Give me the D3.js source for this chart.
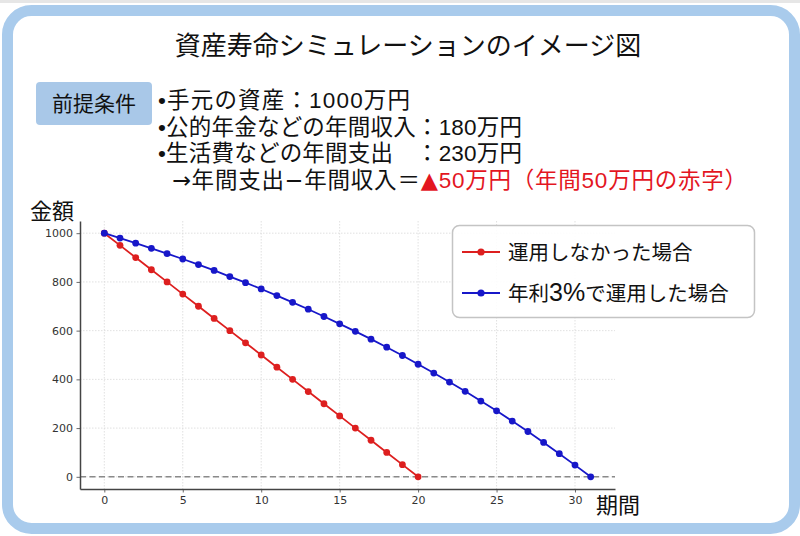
<!DOCTYPE html>
<html>
<head>
<meta charset="utf-8">
<script src="https://cdn.jsdelivr.net/npm/d3@7"></script>
<style>
  html, body { margin: 0; padding: 0; background: #fff; }
  svg { display: block; }
</style>
</head>
<body>
<div id="chart"></div>
<script>
// 運用しなかった場合 (年間50万円ずつ減る)
const yearsPlain = [0, 1, 2, 3, 4, 5, 6, 7, 8, 9, 10, 11, 12, 13, 14, 15, 16, 17, 18, 19, 20]
const valuesPlain = [1000, 950, 900, 850, 800, 750, 700, 650, 600, 550, 500, 450, 400, 350, 300, 250, 200, 150, 100, 50, 0]

// 年利3%で運用した場合
const yearsInvest = [0, 1, 2, 3, 4, 5, 6, 7, 8, 9, 10, 11, 12, 13, 14, 15, 16, 17, 18, 19, 20, 21, 22, 23, 24, 25, 26, 27, 28, 29, 30, 31]
const valuesInvest = [1000, 980, 959, 938, 916, 894, 871, 847, 822, 797, 771, 744, 716, 688, 658, 628, 597, 565, 532, 498, 462, 426, 389, 351, 311, 271, 229, 186, 141, 95, 48, 0]

const xTicks = [0, 5, 10, 15, 20, 25, 30]
const yTicks = [0, 200, 400, 600, 800, 1000]

const seriesNames = ['運用しなかった場合', '年利3%で運用した場合']

const conditions = [
  '•手元の資産：1000万円',
  '•公的年金などの年間収入：180万円',
  '•生活費などの年間支出　：230万円'
]

const CONFIG = {
  width: 800,
  height: 536,
  plot: { left: 80, right: 615, top: 221, bottom: 489 },
  colors: {
    frame: '#a9cbec',
    badge: '#a9c8e8',
    text: '#111',
    tick: '#333',
    red: '#dd1f1f',
    blue: '#1717c9',
    accent: '#e3161f',
    grid: '#d9d9d9',
    zero: '#8a8a8a',
    spine: '#444'
  }
}

// 数字は Liberation Sans、かなと漢字は Noto Sans CJK JP
const jp = '"Liberation Sans", "Noto Sans CJK JP", sans-serif'
const sym = '"DejaVu Sans", sans-serif'
const c = CONFIG.colors
const p = CONFIG.plot

const svg = d3.select('#chart')
  .append('svg')
  .attr('width', CONFIG.width)
  .attr('height', CONFIG.height)

// 外枠
svg.append('rect')
  .attr('x', 0).attr('y', 0).attr('width', 800).attr('height', 3)
  .attr('fill', '#e6e6e6')
svg.append('rect')
  .attr('x', 7.5).attr('y', 10.5)
  .attr('width', 787).attr('height', 518)
  .attr('rx', 24).attr('ry', 24)
  .attr('fill', '#fff')
  .attr('stroke', c.frame)
  .attr('stroke-width', 11)

// タイトル
svg.append('text')
  .attr('x', 408).attr('y', 55)
  .attr('text-anchor', 'middle')
  .style('font-family', jp)
  .style('font-size', '26px')
  .style('fill', c.text)
  .text('資産寿命シミュレーションのイメージ図')

// 前提条件
svg.append('rect')
  .attr('x', 36).attr('y', 82).attr('width', 116).attr('height', 43)
  .attr('rx', 4)
  .attr('fill', c.badge)
svg.append('text')
  .attr('x', 94).attr('y', 111)
  .attr('text-anchor', 'middle')
  .style('font-family', jp)
  .style('font-size', '21px')
  .style('fill', c.text)
  .text('前提条件')

conditions.forEach((line, i) => {
  svg.append('text')
    .attr('x', 158).attr('y', 108 + i * 26.5)
    .attr('textLength', i === 0 ? 252 : 364)
    .style('font-family', jp)
    .style('font-size', '22.5px')
    .style('fill', c.text)
    .text(line)
})
const last = svg.append('text')
  .attr('x', 172).attr('y', 188)
  .attr('textLength', 575)
  .style('font-family', jp)
  .style('font-size', '22.5px')
  .style('fill', c.text)
last.append('tspan').style('font-family', sym).text('→')
last.append('tspan').text('年間支出')
last.append('tspan').style('font-family', sym).text('−')
last.append('tspan').text('年間収入＝')
last.append('tspan').style('fill', c.accent).style('font-family', sym).text('▲')
last.append('tspan').style('fill', c.accent).text('50万円（年間50万円の赤字）')

// スケール
const x = d3.scaleLinear().domain([-1.55, 32.55]).range([p.left, p.right])
const y = d3.scaleLinear().domain([-50, 1050]).range([p.bottom, p.top])

// グリッド
const grid = svg.append('g')
grid.selectAll('.vgrid')
  .data(xTicks)
  .enter()
  .append('line')
  .attr('x1', (d) => x(d)).attr('x2', (d) => x(d))
  .attr('y1', p.top).attr('y2', p.bottom)
  .attr('stroke', c.grid)
  .attr('stroke-width', 0.8)
  .attr('stroke-dasharray', '1.5,1.5')
grid.selectAll('.hgrid')
  .data(yTicks)
  .enter()
  .append('line')
  .attr('x1', p.left).attr('x2', p.right)
  .attr('y1', (d) => y(d)).attr('y2', (d) => y(d))
  .attr('stroke', c.grid)
  .attr('stroke-width', 0.8)
  .attr('stroke-dasharray', '1.5,1.5')

// ゼロライン
svg.append('line')
  .attr('x1', p.left).attr('x2', p.right)
  .attr('y1', y(0)).attr('y2', y(0))
  .attr('stroke', c.zero)
  .attr('stroke-width', 1.5)
  .attr('stroke-dasharray', '6,3.5')

// 軸
const styleAxis = (g) => {
  g.select('.domain').attr('stroke', c.spine).attr('stroke-width', 1.5)
  g.selectAll('.tick line').attr('stroke', c.spine).attr('stroke-width', 0.8)
  g.selectAll('.tick text')
    .style('font-family', '"DejaVu Sans", sans-serif')
    .style('font-size', '11px')
    .style('fill', c.tick)
}
svg.append('g')
  .attr('transform', `translate(0,${p.bottom})`)
  .call(d3.axisBottom(x).tickValues(xTicks).tickFormat(d3.format('d')).tickSize(3.5).tickSizeOuter(0).tickPadding(4))
  .call(styleAxis)
svg.append('g')
  .attr('transform', `translate(${p.left},0)`)
  .call(d3.axisLeft(y).tickValues(yTicks).tickFormat(d3.format('d')).tickSize(3.5).tickSizeOuter(0).tickPadding(3.5))
  .call(styleAxis)

svg.append('text')
  .attr('x', 30).attr('y', 219)
  .style('font-family', jp)
  .style('font-size', '22px')
  .style('fill', c.text)
  .text('金額')
svg.append('text')
  .attr('x', 596).attr('y', 513)
  .style('font-family', jp)
  .style('font-size', '22px')
  .style('fill', c.text)
  .text('期間')

// 折れ線
const drawSeries = (years, values, color) => {
  const pts = years.map((t, i) => [t, values[i]])
  svg.append('path')
    .datum(pts)
    .attr('fill', 'none')
    .attr('stroke', color)
    .attr('stroke-width', 1.8)
    .attr('d', d3.line().x((d) => x(d[0])).y((d) => y(d[1])))
  svg.append('g')
    .selectAll('circle')
    .data(pts)
    .enter()
    .append('circle')
    .attr('cx', (d) => x(d[0]))
    .attr('cy', (d) => y(d[1]))
    .attr('r', 3.4)
    .attr('fill', color)
}
drawSeries(yearsPlain, valuesPlain, c.red)
drawSeries(yearsInvest, valuesInvest, c.blue)

// 凡例
const legend = svg.append('g')
legend.append('rect')
  .attr('x', 452.5).attr('y', 225.5).attr('width', 302).attr('height', 92)
  .attr('rx', 7)
  .attr('fill', '#fff')
  .attr('fill-opacity', 0.9)
  .attr('stroke', '#c4c4c4')
  .attr('stroke-width', 1.5)
const legendItems = [
  { name: seriesNames[0], color: c.red, y: 252 },
  { name: seriesNames[1], color: c.blue, y: 293 }
]
legendItems.forEach((item) => {
  legend.append('line')
    .attr('x1', 462).attr('x2', 500)
    .attr('y1', item.y).attr('y2', item.y)
    .attr('stroke', item.color)
    .attr('stroke-width', 2)
  legend.append('circle')
    .attr('cx', 481).attr('cy', item.y).attr('r', 3.6)
    .attr('fill', item.color)
  const t = legend.append('text')
    .attr('x', 508).attr('y', item.y + 7.5)
    .style('font-family', jp)
    .style('font-size', '20.5px')
    .style('fill', c.text)
  // 「3%」の部分は少し大きめの数字
  item.name.split(/(\d+%)/).filter((s) => s).forEach((part) => {
    t.append('tspan')
      .style('font-size', /\d/.test(part) ? '25px' : null)
      .text(part)
  })
})
</script>
</body>
</html>
